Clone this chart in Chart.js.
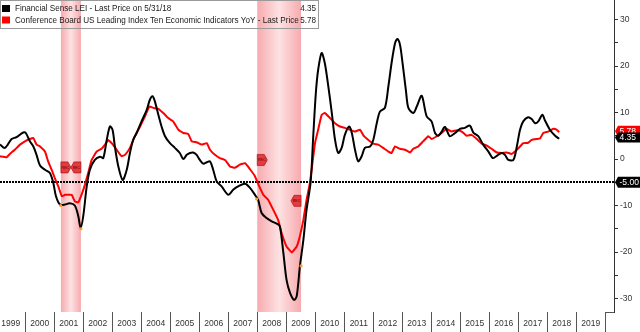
<!DOCTYPE html>
<html><head><meta charset="utf-8">
<script src="https://cdn.jsdelivr.net/npm/chart.js@4.4.1/dist/chart.umd.min.js"></script>
<style>html,body{margin:0;padding:0;background:#fff;overflow:hidden}canvas{display:block}</style>
</head><body>
<canvas id="c" width="640" height="332"></canvas>
<script>
// ---- data (decimal years, values in %) ----
const lsiDates = [1999.13,1999.30,1999.53,1999.70,1999.93,2000.02,2000.16,2000.28,2000.39,2000.51,
2000.68,2000.85,2000.97,2001.06,2001.20,2001.37,2001.54,2001.71,2001.83,2001.91,
2002.00,2002.12,2002.23,2002.40,2002.58,2002.69,2002.81,2002.92,2003.01,2003.09,
2003.21,2003.36,2003.50,2003.61,2003.72,2003.84,2004.01,2004.19,2004.30,2004.39,
2004.47,2004.59,2004.70,2004.82,2004.99,2005.16,2005.33,2005.45,2005.57,2005.68,
2005.79,2005.91,2006.02,2006.14,2006.26,2006.37,2006.48,2006.60,2006.77,2007.00,
2007.17,2007.34,2007.58,2007.75,2007.92,2008.03,2008.15,2008.32,2008.50,2008.67,
2008.78,2008.90,2009.01,2009.13,2009.27,2009.36,2009.47,2009.59,2009.70,2009.84,
2009.93,2010.02,2010.10,2010.22,2010.33,2010.45,2010.57,2010.68,2010.79,2010.91,
2011.02,2011.17,2011.26,2011.37,2011.48,2011.60,2011.71,2011.89,2012.00,2012.12,
2012.23,2012.40,2012.52,2012.63,2012.75,2012.83,2012.92,2013.01,2013.13,2013.21,
2013.38,2013.50,2013.67,2013.84,2014.01,2014.13,2014.24,2014.36,2014.47,2014.64,
2014.82,2014.99,2015.16,2015.33,2015.45,2015.62,2015.79,2015.97,2016.12,2016.26,
2016.43,2016.54,2016.66,2016.83,2016.95,2017.06,2017.17,2017.34,2017.46,2017.58,
2017.69,2017.83,2017.92,2018.09,2018.27,2018.41];
const lsiValues = [3.1,2.4,4.3,4.7,5.7,5.6,3.8,2.7,0.9,-1.4,
-2.3,-3.0,-5.2,-8.0,-9.8,-9.8,-9.5,-10.0,-12.3,-14.8,
-12.3,-5.9,-2.3,-0.2,0.5,0.2,4.1,7.0,6.3,2.7,
-1.6,-4.5,-2.3,1.3,4.1,5.6,8.1,10.6,12.8,13.5,
12.4,9.5,7.0,4.9,3.4,2.4,1.3,0.0,0.9,1.3,
1.4,0.9,-0.2,-1.0,-0.7,-0.5,-2.3,-4.8,-5.9,-7.7,
-6.6,-5.9,-5.3,-6.2,-7.7,-8.8,-11.6,-12.7,-13.4,-13.9,
-14.5,-20.2,-26.0,-28.8,-30.3,-29.5,-23.1,-17.4,-10.9,-5.0,
4.9,14.2,19.2,22.8,20.6,15.6,9.9,4.2,1.3,2.4,
5.2,7.0,5.6,2.0,-0.5,0.6,2.4,2.7,4.1,7.7,
10.2,11.0,15.6,20.6,24.9,25.8,24.6,20.6,14.5,11.0,
9.9,11.3,13.6,9.2,8.1,5.6,5.0,5.9,6.9,4.9,
5.6,6.5,6.7,7.2,5.7,4.9,3.1,1.6,0.2,0.7,
1.3,0.9,-0.2,-0.2,2.7,6.3,8.1,9.0,8.6,7.7,
8.1,9.5,8.3,6.3,5.0,4.35];
const cbDates = [1999.13,1999.36,1999.47,1999.64,1999.82,1999.99,2000.16,2000.28,2000.39,2000.51,
2000.68,2000.79,2000.91,2001.02,2001.14,2001.26,2001.37,2001.48,2001.60,2001.71,
2001.83,2001.94,2002.06,2002.17,2002.29,2002.46,2002.63,2002.75,2002.86,2002.98,
2003.15,2003.32,2003.44,2003.61,2003.78,2003.96,2004.13,2004.28,2004.41,2004.59,
2004.76,2004.93,2005.10,2005.28,2005.45,2005.62,2005.74,2005.91,2006.08,2006.26,
2006.37,2006.54,2006.71,2006.89,2007.06,2007.23,2007.40,2007.58,2007.75,2007.92,
2008.07,2008.21,2008.38,2008.55,2008.72,2008.84,2009.01,2009.19,2009.36,2009.47,
2009.59,2009.70,2009.82,2009.99,2010.10,2010.22,2010.33,2010.51,2010.68,2010.85,
2011.02,2011.20,2011.37,2011.54,2011.68,2011.83,2012.00,2012.17,2012.34,2012.52,
2012.63,2012.75,2012.92,2013.09,2013.27,2013.38,2013.55,2013.72,2013.90,2014.01,
2014.19,2014.36,2014.53,2014.70,2014.88,2015.05,2015.22,2015.39,2015.57,2015.74,
2015.91,2016.08,2016.26,2016.43,2016.60,2016.77,2016.95,2017.06,2017.17,2017.34,
2017.46,2017.63,2017.75,2017.86,2018.03,2018.21,2018.32,2018.41];
const cbValues = [0.6,0.4,1.1,2.0,3.1,3.8,4.3,4.5,3.1,2.7,
1.6,-0.5,-2.3,-4.1,-5.9,-8.0,-7.7,-7.7,-7.7,-9.1,
-9.3,-7.7,-5.5,-3.0,-0.2,1.6,2.2,3.1,4.1,3.4,
2.0,0.6,0.9,2.4,4.9,7.0,9.2,11.3,11.0,10.8,
9.9,8.8,8.1,6.3,5.6,5.4,3.8,3.6,3.1,3.4,
2.0,0.9,0.2,-0.2,-1.6,-1.9,-1.2,-0.9,-2.2,-3.7,
-5.9,-7.7,-8.8,-10.9,-13.1,-15.9,-18.8,-20.1,-18.8,-16.6,
-13.1,-8.8,-5.0,3.4,6.3,9.5,9.9,8.8,7.7,7.0,
6.7,6.3,5.9,6.3,4.9,4.1,3.3,3.1,2.4,1.6,
1.3,2.7,2.2,2.0,1.4,2.2,2.7,3.8,4.9,4.3,
4.9,5.6,6.5,5.9,6.2,5.9,5.0,5.2,4.3,3.3,
2.9,2.2,1.4,1.3,1.4,1.1,2.0,2.7,3.4,3.5,
4.1,4.3,4.4,5.6,5.9,6.5,6.3,5.78];
const yearLabels = [1999,2000,2001,2002,2003,2004,2005,2006,2007,2008,2009,2010,2011,2012,2013,2014,2015,2016,2017,2018,2019];
const yearBoundaries = [2000,2001,2002,2003,2004,2005,2006,2007,2008,2009,2010,2011,2012,2013,2014,2015,2016,2017,2018,2019,2020];
const recessionStarts = [2001.23, 2008.00];
const recessionEnds = [2001.92, 2009.51];
const thresholdValue = -5.00;
const seriesNames = ['Financial Sense LEI - Last Price on 5/31/18', 'Conference Board US Leading Index Ten Economic Indicators YoY - Last Price'];
const lastValues = [4.35, 5.78];
const markerDates = [2001.23, 2001.92, 2008.00, 2009.51];
const markerValues = [-1.8, -1.8, -0.2, -9.0];
const markerDirs = [1, -1, 1, -1];
const boundaryDates = [2001.22, 2001.92, 2007.98, 2009.51];
const boundaryValues = [-10.0, -15.0, -8.6, -23.0];

const FONT = '"Liberation Sans", Arial, sans-serif';
const toXY = (xs, ys) => xs.map((d, i) => ({x: d, y: ys[i]}));

function tag(ctx, right, yPix, h, bg, text) {
  const hh = h / 2;
  ctx.beginPath();
  ctx.moveTo(right + 1, yPix);
  ctx.lineTo(right + 4, yPix - hh);
  ctx.lineTo(640, yPix - hh);
  ctx.lineTo(640, yPix + hh);
  ctx.lineTo(right + 4, yPix + hh);
  ctx.closePath();
  ctx.fillStyle = bg; ctx.fill();
  ctx.fillStyle = '#fff';
  ctx.font = '8.5px ' + FONT;
  ctx.textAlign = 'left'; ctx.textBaseline = 'middle';
  ctx.fillText(text, right + 5.5, yPix + 0.5);
}

const decor = {
  id: 'decor',
  beforeDatasetsDraw(chart) {
    const {ctx, chartArea: a, scales: {x, y}} = chart;
    ctx.save();
    recessionStarts.forEach((s, i) => {
      const x0 = x.getPixelForValue(s), x1 = x.getPixelForValue(recessionEnds[i]);
      const g = ctx.createLinearGradient(x0, 0, x1, 0);
      g.addColorStop(0, 'rgb(247,170,174)');
      g.addColorStop(0.5, 'rgb(253,226,227)');
      g.addColorStop(1, 'rgb(247,170,174)');
      ctx.fillStyle = g;
      ctx.fillRect(x0, a.top, x1 - x0, a.bottom - a.top);
    });
    const ty = Math.round(y.getPixelForValue(thresholdValue));
    ctx.setLineDash([2, 1]);
    ctx.lineWidth = 2; ctx.strokeStyle = '#000';
    ctx.beginPath(); ctx.moveTo(a.left, ty); ctx.lineTo(a.right, ty); ctx.stroke();
    ctx.restore();
  },
  afterDraw(chart) {
    const {ctx, chartArea: a, scales: {x, y}} = chart;
    ctx.save();
    // year separators
    ctx.strokeStyle = '#555'; ctx.lineWidth = 1;
    yearBoundaries.forEach(yr => {
      const px = Math.round(x.getPixelForValue(yr)) + 0.5;
      ctx.beginPath(); ctx.moveTo(px, a.bottom); ctx.lineTo(px, 332); ctx.stroke();
    });
    const lastSep = Math.round(x.getPixelForValue(yearBoundaries[yearBoundaries.length - 1])) + 0.5;
    ctx.beginPath(); ctx.moveTo(lastSep, a.bottom + 0.5); ctx.lineTo(a.right, a.bottom + 0.5); ctx.stroke();
    // REC markers
    markerDates.forEach((d, i) => {
      const px = x.getPixelForValue(d), py = y.getPixelForValue(markerValues[i]);
      const dir = markerDirs[i];
      const body = 7 * dir, tip = 10 * dir;
      ctx.beginPath();
      ctx.moveTo(px, py - 5.5);
      ctx.lineTo(px + body, py - 5.5);
      ctx.lineTo(px + tip, py);
      ctx.lineTo(px + body, py + 5.5);
      ctx.lineTo(px, py + 5.5);
      ctx.closePath();
      ctx.fillStyle = '#e53a3f'; ctx.fill();
      ctx.strokeStyle = '#a31518'; ctx.lineWidth = 0.7; ctx.stroke();
      ctx.fillStyle = '#5a0000';
      ctx.font = '3.6px ' + FONT;
      ctx.textAlign = 'center'; ctx.textBaseline = 'middle';
      ctx.fillText('REC', px + dir * 4.5, py + 0.3);
    });
    // legend box
    ctx.strokeStyle = '#9a9a9a'; ctx.lineWidth = 1;
    ctx.strokeRect(0.5, 0.5, 318, 28);
    const colors = ['#000', '#ff0000'];
    const rows = [8.5, 20];
    ctx.font = '8.15px ' + FONT; ctx.textBaseline = 'middle';
    seriesNames.forEach((n, i) => {
      ctx.fillStyle = colors[i];
      ctx.fillRect(2, rows[i] - 3.5, 8, 7);
      ctx.fillStyle = '#1a1a1a';
      ctx.textAlign = 'left';
      ctx.fillText(n, 15, rows[i] + 0.5);
      ctx.textAlign = 'right';
      ctx.fillText(lastValues[i].toFixed(2), 316, rows[i] + 0.5);
    });
    // right side value tags
    tag(ctx, a.right, y.getPixelForValue(thresholdValue), 11, '#000', thresholdValue.toFixed(2));
    tag(ctx, a.right, y.getPixelForValue(lastValues[1]) - 1, 11, '#ff0000', lastValues[1].toFixed(2));
    tag(ctx, a.right, y.getPixelForValue(lastValues[0]) - 1.4, 10, '#000', lastValues[0].toFixed(2));
    ctx.restore();
  }
};

new Chart(document.getElementById('c').getContext('2d'), {
  type: 'line',
  data: {
    datasets: [
      {label: 'Boundary', type: 'scatter', data: toXY(boundaryDates, boundaryValues), pointRadius: 1.6, pointHoverRadius: 1.6, pointBackgroundColor: '#eea22e', pointBorderWidth: 0, order: 0},
      {label: seriesNames[0], data: toXY(lsiDates, lsiValues), borderColor: '#000', borderWidth: 2, pointRadius: 0, tension: 0.3, order: 1},
      {label: seriesNames[1], data: toXY(cbDates, cbValues), borderColor: '#ff0000', borderWidth: 2, pointRadius: 0, tension: 0.1, order: 2}
    ]
  },
  options: {
    responsive: false, animation: false, devicePixelRatio: 1,
    layout: {padding: 0, autoPadding: false},
    plugins: {legend: {display: false}, tooltip: {enabled: false}},
    scales: {
      x: {
        type: 'linear', min: 1999.13, max: 2020.30,
        afterBuildTicks(s) { s.ticks = yearLabels.map(v => ({value: v + 0.5})); },
        afterFit(s) { s.height = 20; s.paddingLeft = 0; s.paddingRight = 0; },
        ticks: {autoSkip: false, maxRotation: 0, padding: 7, color: '#333', font: {family: FONT, size: 8.5},
          callback: v => String(Math.floor(v))},
        grid: {display: false, drawTicks: false},
        border: {display: false}
      },
      y: {
        position: 'right', min: -32.9, max: 34.2,
        afterFit(s) { s.width = 26; s.paddingTop = 0; s.paddingBottom = 0; },
        ticks: {stepSize: 5, includeBounds: false, autoSkip: false, padding: 2, color: '#333',
          font: {family: FONT, size: 8.5},
          callback: v => (v % 10 === 0 ? String(v) : '')},
        grid: {drawOnChartArea: false, drawTicks: true, tickLength: 4, color: '#333'},
        border: {display: true, color: '#333'}
      }
    }
  },
  plugins: [decor]
});
</script>
</body></html>
